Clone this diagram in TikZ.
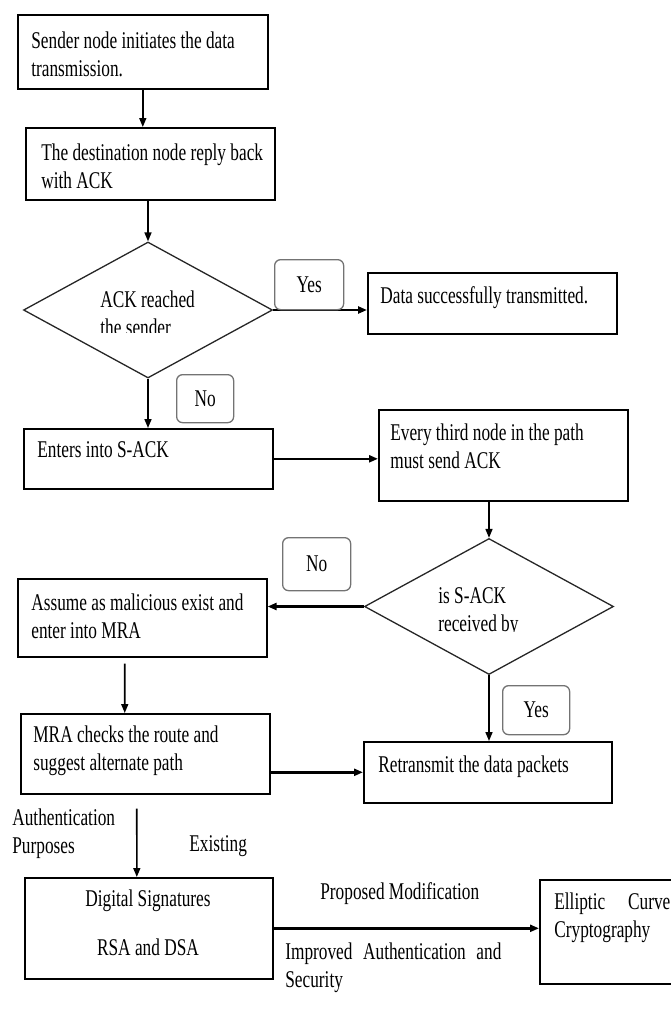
\documentclass[tikz,border=0pt]{standalone}
\usepackage{fontspec}
\setmainfont[FakeStretch=0.72]{Liberation Serif}
\usetikzlibrary{shapes.geometric,arrows.meta,calc}

\newcommand{\flowfont}{\fontsize{24}{28.7}\selectfont}
\tikzset{every picture/.style={line width=0.75pt}}
\tikzset{
  box/.style={draw, line width=1.6pt, anchor=north west, inner sep=0pt},
  decision/.style={draw=black!85, diamond, line width=1.3pt, inner sep=0pt, minimum width=249pt, minimum height=136pt},
  tag/.style={draw=black!55, rounded corners=6pt, line width=1.3pt, fill=white, anchor=north west, inner sep=0pt, font=\flowfont},
  txt/.style={anchor=north west, inner sep=0pt, align=left, font=\flowfont},
  arr/.style={-{Triangle[length=9pt,width=7pt]}, line width=1.6pt},
  harr/.style={arr, line width=2.6pt}
}

\begin{document}
\begin{tikzpicture}[x=1pt,y=1pt,yscale=-1,xscale=1]
\useasboundingbox (0,0) rectangle (671,1021);

%Shape: Rectangle
\node[box, minimum width=250pt, minimum height=74pt] (b1) at (17,14) {};
\node[box, minimum width=249pt, minimum height=72pt] (b2) at (25,127) {};
\node[box, minimum width=249pt, minimum height=61pt] (data) at (367,272) {};
\node[box, minimum width=249pt, minimum height=60pt] (b3) at (23,428) {};
\node[box, minimum width=249pt, minimum height=91pt] (b4) at (378,409) {};
\node[box, minimum width=249pt, minimum height=78pt] (b5) at (17,578) {};
\node[box, minimum width=249pt, minimum height=80pt] (b6) at (20,713) {};
\node[box, minimum width=248pt, minimum height=61pt] (b7) at (363,741) {};
\node[box, minimum width=248pt, minimum height=101pt] (b8) at (24,877) {};
\node[box, minimum width=160pt, minimum height=104pt] (b9) at (539,879) {};

%Shape: Diamond
\node[decision] (d1) at (148,310) {};
\node[decision] (d2) at (489,606.5) {};

%Straight Lines
\draw[arr] (b1.south) -- (b1.south |- b2.north);
\draw[arr] (b2.south -| d1.north) -- (d1.north);
\draw[harr] (d1.east) -- (d1.east -| data.west);
\draw[arr] (d1.south) -- (d1.south |- b3.north);
\draw[harr] (b3.east) -- (b3.east -| b4.west);
\draw[arr] (b4.south -| d2.north) -- (d2.north);
\draw[harr] (d2.west) -- (d2.west -| b5.east);
\draw[arr, shorten <=6pt] ($(b5.south west)!0.43!(b5.south east)$) -- ($(b6.north west)!0.418!(b6.north east)$);
\draw[arr] (d2.south) -- (d2.south |- b7.north);
\draw[harr] (b7.west -| b6.east) -- (b7.west);
\draw[arr, shorten <=14pt] ($(b6.south west)!0.466!(b6.south east)$) -- ($(b8.north west)!0.452!(b8.north east)$);
\draw[harr] (b8.east) -- (b8.east -| b9.west);

%Shape: Rounded Rectangle
\node[tag, minimum width=69pt, minimum height=50pt] (yes1) at (274,259) {Yes};
\node[tag, minimum width=57pt, minimum height=48pt] (no1) at (176,374) {No};
\node[tag, minimum width=68pt, minimum height=53pt] (no2) at (282,537) {No};
\node[tag, minimum width=67pt, minimum height=49pt] (yes2) at (502,685) {Yes};

% Text Node
\node[txt] (t1) at (31,31) {Sender node initiates the data\\transmission.};
% Text Node
\node[txt] (t2) at (41,143) {The destination node reply back\\with ACK};
% Text Node
\begin{scope}
\clip (90,280) rectangle (240,332);
\node[txt] (td1) at (100,290) {ACK reached\\the sender};
\end{scope}
% Text Node
\node[txt] (tdata) at (380,286) {Data successfully transmitted.};
% Text Node
\node[txt] (t3) at (37,441) {Enters into S-ACK};
% Text Node
\node[txt] (t4) at (390,423) {Every third node in the path\\must send ACK};
% Text Node
\begin{scope}
\clip (430,575) rectangle (600,631.5);
\node[txt] (td2) at (438,587) {is S-ACK\\received by};
\end{scope}
% Text Node
\node[txt] (t5) at (31,593) {Assume as malicious exist and\\enter into MRA};
% Text Node
\node[txt] (t6) at (33,725) {MRA checks the route and\\suggest alternate path};
% Text Node
\node[txt] (t7) at (378,755) {Retransmit the data packets};
% Text Node
\node[txt] (tauth) at (12,808) {Authentication\\Purposes};
% Text Node
\node[txt] (texist) at (189,835) {Existing};
% Text Node
\node[txt, anchor=north, align=center] (t8) at (148,889) {Digital Signatures\\[21pt]RSA and DSA};
% Text Node
\node[txt] (tprop) at (320,882) {Proposed Modification};
% Text Node
\node[txt, text width=216pt] (timpr) at (285,942) {Improved\hfill Authentication\hfill and\\Security};
% Text Node
\node[txt, text width=116pt] (t9) at (554,892) {Elliptic\hfill Curve\\Cryptography};

\end{tikzpicture}
\end{document}
